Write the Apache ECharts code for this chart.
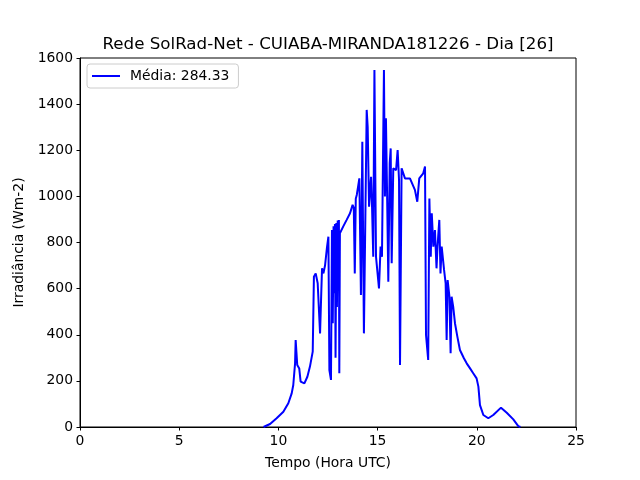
<!DOCTYPE html>
<html>
<head>
<meta charset="utf-8">
<script src="https://cdn.jsdelivr.net/npm/echarts@6/dist/echarts.min.js"></script>
<style>
  html, body { margin: 0; padding: 0; background: #fff; }
  #chart { width: 640px; height: 480px; }
</style>
</head>
<body>
<div id="chart"></div>
<script>
// hora UTC e irradiância
const hours = [
  9.25, 9.58, 9.91, 10.25, 10.5, 10.67, 10.75, 10.84, 10.87, 10.95,
  11.05, 11.12, 11.31, 11.46, 11.59, 11.73, 11.79, 11.88, 11.98, 12.10,
  12.16, 12.2, 12.27, 12.35, 12.45, 12.52, 12.57, 12.65, 12.70, 12.74,
  12.78, 12.81, 12.85, 12.88, 12.92, 12.95, 12.99, 13.02, 13.05, 13.07,
  13.10, 13.14, 13.27, 13.44, 13.61, 13.74, 13.80, 13.85, 13.90, 13.95,
  14.03, 14.08, 14.16, 14.23, 14.31, 14.45, 14.5, 14.57, 14.67, 14.72,
  14.78, 14.84, 14.92, 14.97, 15.07, 15.15, 15.22, 15.32, 15.37, 15.42,
  15.48, 15.54, 15.61, 15.66, 15.71, 15.79, 15.93, 16.01, 16.08, 16.13,
  16.21, 16.38, 16.63, 16.72, 16.88, 17.0, 17.1, 17.3, 17.39, 17.44,
  17.55, 17.61, 17.68, 17.73, 17.81, 17.89, 17.97, 18.02, 18.11, 18.17,
  18.23, 18.35, 18.43, 18.48, 18.53, 18.62, 18.68, 18.73, 18.81, 18.9,
  19.02, 19.15, 19.35, 19.49, 19.66, 19.82, 19.99, 20.08, 20.16, 20.33,
  20.58, 20.83, 21.22, 21.51, 21.84, 22.09, 22.2
];
const irradiance = [
  0, 13, 38, 66, 103, 146, 182, 276, 377, 269,
  254, 197, 189, 218, 262, 327, 652, 666, 623, 406,
  580, 688, 666, 700, 780, 825, 247, 204, 854, 450,
  870, 580, 880, 300, 885, 520, 895, 600, 898, 233,
  840, 845, 870, 898, 927, 963, 950, 666, 990, 1006,
  1050, 1078, 572, 1237, 406, 1375, 1302, 955, 1085, 955,
  738, 1548, 738, 740, 601, 782, 738, 1548, 999, 1339,
  999, 630, 1143, 1208, 710, 1122, 1114, 1201, 1071, 269,
  1122, 1078, 1078, 1071, 1028, 977, 1078, 1100, 1129, 399,
  291, 991, 738, 927, 782, 854, 688, 782, 898, 666,
  782, 681, 623, 377, 637, 565, 320, 565, 522, 450,
  392, 334, 298, 276, 254, 233, 211, 175, 95, 52,
  38, 52, 84, 62, 33, 4, 0
];
const xTicks = [0, 5, 10, 15, 20, 25];
const yTicks = [0, 200, 400, 600, 800, 1000, 1200, 1400, 1600];
const mediaLabel = 'Média: 284.33';

const font = 'DejaVu Sans';
const points = hours.map((h, i) => [h, irradiance[i]]);

const chart = echarts.init(document.getElementById('chart'));
chart.setOption({
  animation: false,
  backgroundColor: '#fff',
  title: {
    text: 'Rede SolRad-Net - CUIABA-MIRANDA181226 - Dia [26]',
    left: 323,
    top: 31,
    textAlign: 'center',
    textStyle: { fontFamily: font, fontSize: 16.7, fontWeight: 'normal', color: '#000' }
  },
  legend: {
    left: 87,
    top: 64,
    padding: [5, 9, 5, 5],
    backgroundColor: '#fff',
    borderColor: '#cccccc',
    borderWidth: 1,
    borderRadius: 3,
    icon: 'rect',
    itemWidth: 28,
    itemHeight: 2,
    textStyle: { fontFamily: font, fontSize: 13.9, color: '#000', padding: [0, 0, 0, 5] },
    data: [mediaLabel]
  },
  grid: {
    left: 80, right: 64, top: 58, bottom: 53,
    show: true, borderColor: '#000', borderWidth: 1
  },
  xAxis: {
    type: 'value',
    min: xTicks[0],
    max: xTicks[xTicks.length - 1],
    interval: 5,
    name: 'Tempo (Hora UTC)',
    nameLocation: 'middle',
    nameGap: 29,
    nameTextStyle: { fontFamily: font, fontSize: 13.9, color: '#000' },
    axisLine: { lineStyle: { color: '#000', width: 1 } },
    axisTick: { show: true, length: 3.5, lineStyle: { color: '#000' } },
    axisLabel: { margin: 7, fontFamily: font, fontSize: 13.9, color: '#000' },
    splitLine: { show: false }
  },
  yAxis: {
    type: 'value',
    min: yTicks[0],
    max: yTicks[yTicks.length - 1],
    interval: 200,
    name: 'Irradiância (Wm-2)',
    nameLocation: 'middle',
    nameGap: 47,
    nameTextStyle: { fontFamily: font, fontSize: 13.9, color: '#000' },
    axisLine: { show: true, lineStyle: { color: '#000', width: 1 } },
    axisTick: { show: true, length: 3.5, lineStyle: { color: '#000' } },
    axisLabel: {
      margin: 7, fontFamily: font, fontSize: 13.9, color: '#000',
      formatter: v => String(v)
    },
    splitLine: { show: false }
  },
  series: [{
    name: mediaLabel,
    type: 'line',
    data: points,
    showSymbol: false,
    symbol: 'none',
    color: '#0000ff',
    lineStyle: { color: '#0000ff', width: 2 }
  }]
});
</script>
</body>
</html>
